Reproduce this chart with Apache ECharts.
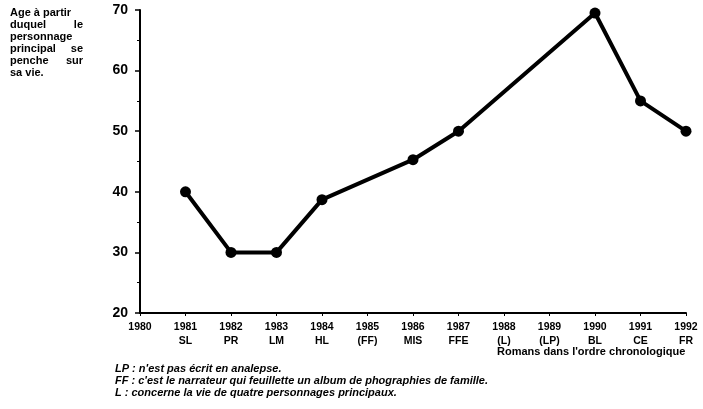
<!DOCTYPE html>
<html>
<head>
<meta charset="utf-8">
<script src="https://cdn.jsdelivr.net/npm/echarts@6/dist/echarts.min.js"></script>
<style>
  html, body { margin: 0; padding: 0; background: #fff; }
  #chart { width: 703px; height: 409px; }
</style>
</head>
<body>
<div id="chart"></div>
<script>
// années et romans (ordre chronologique)
var years = [1980, 1981, 1982, 1983, 1984, 1985, 1986, 1987, 1988, 1989, 1990, 1991, 1992];
var codes = ['', 'SL', 'PR', 'LM', 'HL', '(FF)', 'MIS', 'FFE', '(L)', '(LP)', 'BL', 'CE', 'FR'];
// âge à partir duquel le personnage se penche sur sa vie
var ages = [null, 40, 30, 30, 38.7, null, 45.3, 50, null, null, 69.5, 55, 50];
var yTicks = [20, 30, 40, 50, 60, 70];
var notes = [
  "LP : n'est pas écrit en analepse.",
  "FF : c'est le narrateur qui feuillette un album de phographies de famille.",
  "L : concerne la vie de quatre personnages principaux."
];

window.onload = function() {
  var myChart = echarts.init(document.getElementById('chart'));
  var font = 'Liberation Sans, Arial, sans-serif';

  var points = [];
  for (var i = 0; i < years.length; i++) {
    if (ages[i] !== null) points.push([years[i], ages[i]]);
  }

  // texte justifié : mot de gauche / mot de droite
  var leftLines = [
    ['Age à partir', ''],
    ['duquel', 'le'],
    ['personnage', ''],
    ['principal', 'se'],
    ['penche', 'sur'],
    ['sa vie.', '']
  ];
  var graphics = [];
  leftLines.forEach(function(l, k) {
    graphics.push({ type: 'text', left: 10, top: 7 + k * 12,
      style: { text: l[0], font: 'bold 11px ' + font, fill: '#000' } });
    if (l[1]) graphics.push({ type: 'text', right: 620, top: 7 + k * 12,
      style: { text: l[1], font: 'bold 11px ' + font, fill: '#000' } });
  });
  notes.forEach(function(t, k) {
    graphics.push({ type: 'text', left: 115, top: 363 + k * 12,
      style: { text: t, font: 'italic bold 11px ' + font, fill: '#000' } });
  });
  graphics.push({ type: 'text', left: 497, top: 346,
    style: { text: "Romans dans l'ordre chronologique", font: 'bold 11px ' + font, fill: '#000' } });

  var option = {
    backgroundColor: '#fff',
    animation: false,
    grid: { left: 140, right: 17, top: 10, bottom: 96, containLabel: false },
    xAxis: {
      type: 'value', min: 1980, max: 1992, interval: 1,
      axisLine: { lineStyle: { color: '#000', width: 2 } },
      axisTick: { show: true, length: 3, lineStyle: { color: '#000' } },
      splitLine: { show: false },
      axisLabel: {
        color: '#000', fontFamily: font, fontWeight: 'bold', fontSize: 10.5,
        lineHeight: 14, margin: 7,
        formatter: function(v) {
          var idx = years.indexOf(v);
          return idx > 0 ? v + '\n' + codes[idx] : String(v);
        }
      }
    },
    yAxis: {
      type: 'value', min: yTicks[0], max: yTicks[yTicks.length - 1], interval: 10,
      axisLine: { show: true, lineStyle: { color: '#000', width: 2 } },
      axisTick: { show: true, length: 5, lineStyle: { color: '#000', width: 1.5 } },
      minorTick: { show: true, splitNumber: 2, length: 3, lineStyle: { color: '#000' } },
      splitLine: { show: false },
      axisLabel: { color: '#000', fontFamily: font, fontWeight: 'bold', fontSize: 14, margin: 12 }
    },
    series: [{
      type: 'line',
      data: points,
      connectNulls: true,
      symbol: 'circle',
      symbolSize: 11,
      lineStyle: { color: '#000', width: 4 },
      itemStyle: { color: '#000' }
    }],
    graphic: graphics
  };
  myChart.setOption(option);
};
</script>
</body>
</html>
